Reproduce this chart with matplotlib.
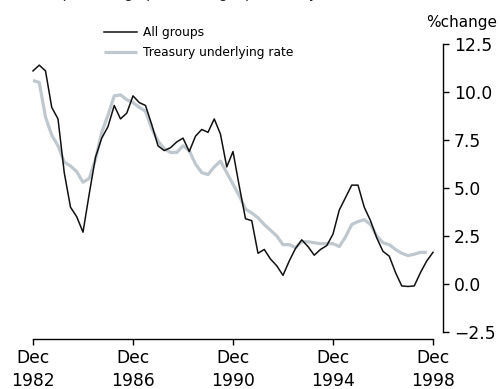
import matplotlib
matplotlib.use("Agg")
import matplotlib.pyplot as plt
import numpy as np

# quarterly, Dec 1982 .. Dec 1998 (% change on a year earlier)
all_groups = [11.1, 11.4, 11.1, 9.2, 8.6, 5.8, 4.0, 3.5, 2.7, 4.7,
              6.6, 7.6, 8.2, 9.3, 8.6, 8.9, 9.8, 9.45, 9.3, 8.3,
              7.2, 6.95, 7.1, 7.4, 7.6, 6.9, 7.7, 8.05, 7.9, 8.6,
              7.8, 6.1, 6.9, 5.1, 3.4, 3.3, 1.6, 1.8, 1.3, 0.95,
              0.45, 1.2, 1.85, 2.3, 1.95, 1.5, 1.8, 2.0, 2.6, 3.85,
              4.5, 5.15, 5.15, 4.0, 3.3, 2.4, 1.7, 1.45, 0.6, -0.1,
              -0.13, -0.1, 0.6, 1.2, 1.65]
underlying = [10.6, 10.5, 8.7, 7.75, 7.2, 6.35, 6.15, 5.85, 5.3, 5.5,
              6.5, 7.9, 8.8, 9.8, 9.85, 9.6, 9.45, 9.2, 9.0, 8.1,
              7.45, 7.05, 6.85, 6.85, 7.2, 6.95, 6.25, 5.8, 5.7, 6.1,
              6.4, 5.8, 5.2, 4.6, 3.9, 3.7, 3.45, 3.1, 2.8, 2.5,
              2.05, 2.05, 1.9, 2.2, 2.2, 2.15, 2.1, 2.1, 2.1, 1.95,
              2.45, 3.1, 3.25, 3.35, 3.1, 2.5, 2.15, 2.05, 1.8, 1.6,
              1.48, 1.55, 1.65, 1.65]
tick_years = [1982, 1986, 1990, 1994, 1998]
y_ticks = [-2.5, 0.0, 2.5, 5.0, 7.5, 10.0, 12.5]

start = 1982 + 11 / 12
x_all = start + 0.25 * np.arange(len(all_groups))
x_und = start + 0.25 * np.arange(len(underlying))

fig = plt.figure(figsize=(5, 3.89), dpi=100)
ax = fig.add_axes([33 / 500, 50 / 389, 410 / 500, 299 / 389])

ax.plot(x_und, underlying, color="#bfc8ce", lw=2.3, label="Treasury underlying rate",
        clip_on=False, solid_capstyle="butt")
ax.plot(x_all, all_groups, color="#111111", lw=1.1, label="All groups", clip_on=False)

ax.set_xlim(start, start + 410 / 25)
ax.set_ylim(-2.865, 12.71)

for s in ["left", "top"]:
    ax.spines[s].set_visible(False)
ax.spines["right"].set_bounds(-2.5, 12.5)
ax.spines["bottom"].set_bounds(start, start + 16)
ax.spines["right"].set_linewidth(1.0)
ax.spines["bottom"].set_linewidth(1.0)

ax.yaxis.tick_right()
ax.set_yticks(y_ticks)
ax.set_yticklabels(["\u22122.5" if v < 0 else "%.1f" % v for v in y_ticks])
ax.set_xticks([y + 11 / 12 for y in tick_years])
ax.set_xticklabels(["Dec\n%d" % y for y in tick_years], linespacing=1.3)
ax.tick_params(axis="both", direction="out", length=4.5, width=1.0, labelsize=12.3, pad=3)
ax.tick_params(axis="y", pad=3.5)

fig.text(497 / 500, 1 - 22 / 389, "%change", ha="right", va="center", fontsize=11)

h, l = ax.get_legend_handles_labels()
ax.legend(h[::-1], l[::-1], loc="upper left", bbox_to_anchor=(104 / 500, 1 - 26 / 389),
          bbox_transform=fig.transFigure, frameon=False, fontsize=8.8,
          handlelength=2.7, handletextpad=0.5, labelspacing=0.6, borderpad=0,
          borderaxespad=0)

# title sits mostly above the visible area in the reference: only descenders show
fig.text(10 / 500, 1 + 1.5 / 389, "Annual percentage price change, previous year",
         ha="left", va="baseline", fontsize=10, color="#222222")

fig.savefig("out.png", dpi=100)
